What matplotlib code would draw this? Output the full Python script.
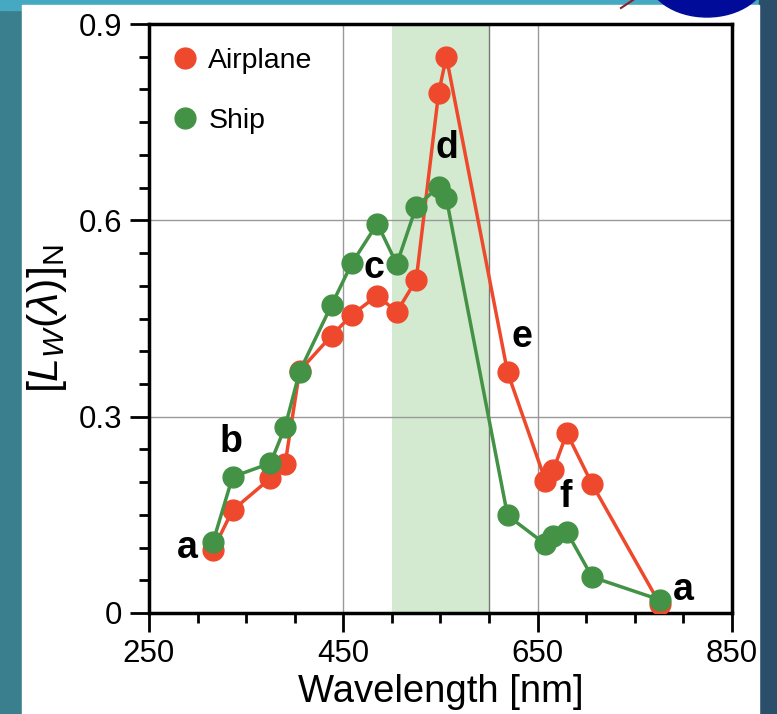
import matplotlib
matplotlib.use('Agg')
import matplotlib.pyplot as plt
from matplotlib.patches import Rectangle, Ellipse
from matplotlib.lines import Line2D
from matplotlib.ticker import MultipleLocator, FixedLocator

plt.rcParams['font.family'] = ['Liberation Sans', 'DejaVu Sans']
plt.rcParams['mathtext.fontset'] = 'custom'
plt.rcParams['mathtext.rm'] = 'Liberation Sans'
plt.rcParams['mathtext.it'] = 'Liberation Sans:italic'

# wavelengths shared by both series (nm)
wavelength = [316, 336, 375, 390, 405, 438, 459, 485, 505, 525,
              548, 556, 619, 658, 666, 680, 706, 776]
airplane = [0.097, 0.157, 0.206, 0.227, 0.370, 0.424, 0.456, 0.485, 0.460, 0.509,
            0.794, 0.850, 0.368, 0.202, 0.218, 0.275, 0.197, 0.013]
ship = [0.109, 0.208, 0.229, 0.284, 0.369, 0.471, 0.535, 0.595, 0.533, 0.621,
        0.651, 0.634, 0.149, 0.105, 0.117, 0.124, 0.055, 0.020]

# point labels
label_text = ['a', 'b', 'c', 'd', 'e', 'f', 'a']
label_x = [289, 334, 482, 557, 634, 679, 800]
label_y = [0.100, 0.261, 0.527, 0.710, 0.422, 0.178, 0.035]

band = (500, 600)

color_air = '#EE492C'
color_ship = '#439246'
color_band = '#d3ead0'

fig = plt.figure(figsize=(7.77, 7.14), dpi=100)
fig.patch.set_facecolor('#3a7f8e')

# screenshot background: teal frame, white slide, blue logo
bg = fig.add_axes([0, 0, 1, 1])
bg.set_xlim(0, 777)
bg.set_ylim(714, 0)
bg.axis('off')
bg.add_patch(Rectangle((0, 0), 777, 714, color='#3a7f8e'))
bg.add_patch(Rectangle((0, 0), 777, 10, color='#45a9c1'))
bg.add_patch(Rectangle((759, 0), 18, 714, color='#2b4f6b'))
bg.add_patch(Rectangle((22, 5), 737, 709, color='white'))
bg.add_patch(Ellipse((707, -25), 120, 84, color='#000c99'))
bg.plot([621, 636], [8, -2], color='#8a1f2a', lw=1.5)

ax = fig.add_axes([149/777, 1 - 613/714, (732 - 149)/777, (613 - 24)/714])
ax.set_facecolor('none')

ax.axvspan(band[0], band[1], color=color_band, zorder=0, lw=0)
ax.axvline(band[1], color='#777777', lw=1.0, zorder=1)

ax.plot(wavelength, airplane, '-o', color=color_air, lw=2.5, ms=15,
        mec=color_air, zorder=3)
ax.plot(wavelength, ship, '-o', color=color_ship, lw=2.5, ms=15,
        mec=color_ship, zorder=4)

for t, x, y in zip(label_text, label_x, label_y):
    ax.text(x, y, t, fontsize=27, fontweight='bold', ha='center', va='center', zorder=5)

ax.set_xlim(250, 850)
ax.set_ylim(0, 0.9)
ax.xaxis.set_major_locator(FixedLocator([250, 450, 650, 850]))
ax.xaxis.set_minor_locator(MultipleLocator(50))
ax.yaxis.set_major_locator(FixedLocator([0, 0.3, 0.6, 0.9]))
ax.yaxis.set_minor_locator(MultipleLocator(0.05))
ax.set_yticklabels(['0', '0.3', '0.6', '0.9'])
ax.grid(True, which='major', color='#999999', lw=1.0, zorder=1)
ax.set_axisbelow(True)

ax.tick_params(which='major', direction='out', length=14, width=2, labelsize=22.5, pad=5)
ax.tick_params(which='minor', direction='out', length=7, width=2)
ax.tick_params(top=False, right=False)
for s in ax.spines.values():
    s.set_linewidth(2.5)

ax.set_xlabel('Wavelength [nm]', fontsize=27.5, labelpad=3)
ax.set_ylabel(r'$[L_W(\lambda)]_{\mathrm{N}}$', fontsize=31, labelpad=7)

handles = [Line2D([], [], ls='none', marker='o', ms=15, color=color_air),
           Line2D([], [], ls='none', marker='o', ms=15, color=color_ship)]
ax.legend(handles, ['Airplane', 'Ship'], loc='upper left', frameon=False,
          fontsize=20.5, handletextpad=0.43, labelspacing=1.2,
          borderaxespad=0.45, borderpad=0.4, handlelength=0.8)

fig.savefig('out.png', dpi=100, facecolor=fig.get_facecolor())
